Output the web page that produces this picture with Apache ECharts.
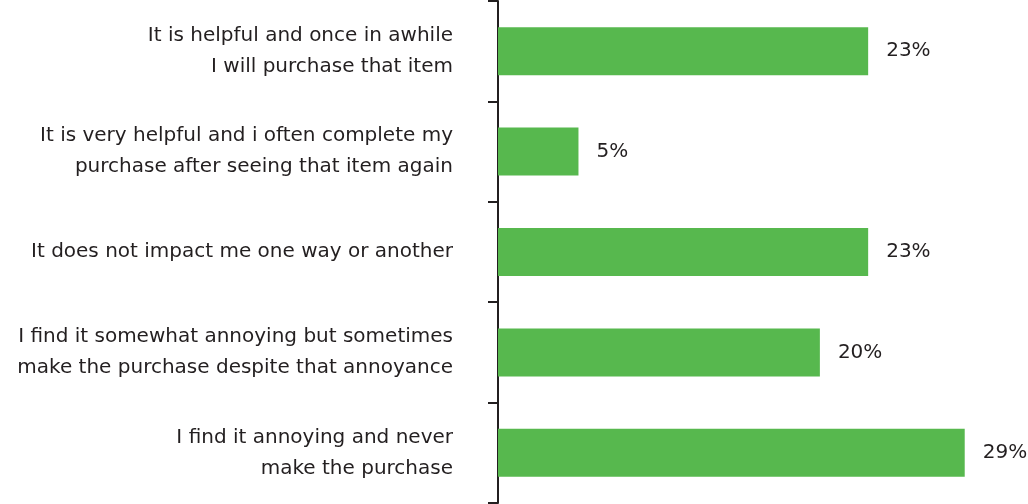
<!DOCTYPE html>
<html>
<head>
<meta charset="utf-8">
<script src="https://cdn.jsdelivr.net/npm/echarts@6/dist/echarts.min.js"></script>
<style>
  html, body { margin: 0; padding: 0; background: #ffffff; }
  #chart { width: 1028px; height: 504px; }
</style>
</head>
<body>
<div id="chart"></div>
<script>
// Survey answers, top to bottom
const categories = [
  'It is helpful and once in awhile\nI will purchase that item',
  'It is very helpful and i often complete my\npurchase after seeing that item again',
  'It does not impact me one way or another',
  'I find it somewhat annoying but sometimes\nmake the purchase despite that annoyance',
  'I find it annoying and never\nmake the purchase'
];
// Share of respondents (%)
const shares = [23, 5, 23, 20, 29];

const textColor = '#231f20';
const barColor = '#57b84e';
const fontFamily = '"DejaVu Sans", sans-serif';

const chart = echarts.init(document.getElementById('chart'), null, { renderer: 'canvas' });
chart.setOption({
  animation: false,
  backgroundColor: '#ffffff',
  grid: { left: 498, right: 15, top: 1, bottom: 1, containLabel: false },
  xAxis: {
    type: 'value',
    min: 0,
    max: 32,
    show: false
  },
  yAxis: {
    type: 'category',
    data: categories,
    inverse: true,
    axisLine: { show: true, lineStyle: { color: textColor, width: 2 } },
    axisTick: { show: true, length: 10, lineStyle: { color: textColor, width: 2 } },
    axisLabel: {
      margin: 45,
      color: textColor,
      fontFamily: fontFamily,
      fontSize: 20,
      lineHeight: 31,
      align: 'right'
    },
    splitLine: { show: false }
  },
  series: [{
    type: 'bar',
    data: shares,
    barWidth: 48,
    itemStyle: { color: barColor },
    label: {
      show: true,
      position: 'right',
      distance: 18,
      color: textColor,
      fontFamily: fontFamily,
      fontSize: 20,
      formatter: p => p.value + '%'
    }
  }]
});
</script>
</body>
</html>
